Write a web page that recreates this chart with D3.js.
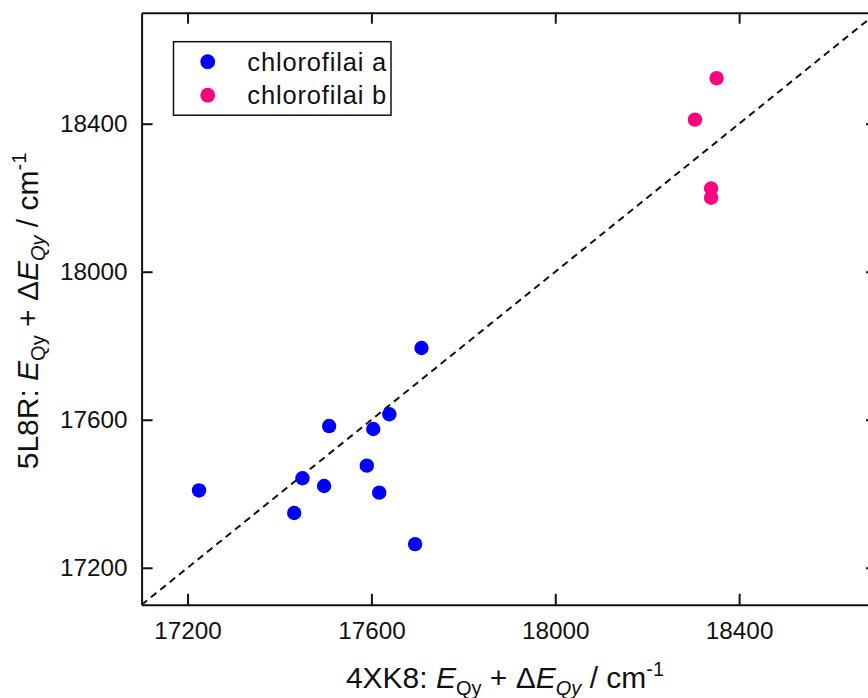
<!DOCTYPE html>
<html>
<head>
<meta charset="utf-8">
<script src="https://cdn.jsdelivr.net/npm/d3@7"></script>
<style>
  body { margin: 0; background: #fff; }
  text { font-family: Arial, "Liberation Sans", sans-serif; fill: #111; }
</style>
</head>
<body>
<div id="container"></div>
<script>
/* DATA */
const seriesNames = ["chlorofilai a", "chlorofilai b"]
const chlA_x = [17225, 17432, 17450, 17497, 17508, 17590, 17604, 17617, 17639, 17695, 17709]
const chlA_y = [17409, 17348, 17442, 17421, 17583, 17476, 17575, 17403, 17615, 17264, 17794]
const chlB_x = [18351, 18304, 18339, 18339]
const chlB_y = [18523, 18411, 18225, 18200]
const tickValues = [17200, 17600, 18000, 18400]
const axisRange = [17100, 18700]

/* CONSTANTS */
const W = 868, H = 698
const margin = {top: 12.7, left: 141.6}
const width = 735.4, height = 592.1
const colors = ["#0000ff", "#ff0080"]

const svg = d3.select("#container")
  .append("svg")
  .attr("width", W)
  .attr("height", H)

const g = svg.append("g")
  .attr("transform", "translate(" + margin.left + "," + margin.top + ")")

/* SCALES */
const xScale = d3.scaleLinear().domain(axisRange).range([0, width])
const yScale = d3.scaleLinear().domain(axisRange).range([height, 0])

/* AXES */
function styleAxis(sel) {
  sel.selectAll("path.domain").attr("stroke", "#111").attr("stroke-width", 2)
  sel.selectAll(".tick line").attr("stroke", "#111").attr("stroke-width", 2)
  sel.selectAll("text").style("font-size", "24.3px").attr("fill", "#111").attr("font-family", null)
}

g.append("g")
  .attr("transform", "translate(0," + height + ")")
  .call(d3.axisBottom(xScale).tickValues(tickValues).tickSize(-11).tickSizeOuter(0).tickPadding(17).tickFormat(d3.format("d")))
  .call(styleAxis)

g.append("g")
  .call(d3.axisLeft(yScale).tickValues(tickValues).tickSize(-11).tickSizeOuter(0).tickPadding(14).tickFormat(d3.format("d")))
  .call(styleAxis)

g.append("g")
  .call(d3.axisTop(xScale).tickValues(tickValues).tickSize(-11).tickSizeOuter(0).tickFormat(""))
  .call(styleAxis)

g.append("g")
  .attr("transform", "translate(" + width + ",0)")
  .call(d3.axisRight(yScale).tickValues(tickValues).tickSize(-11).tickSizeOuter(0).tickFormat(""))
  .call(styleAxis)

/* DIAGONAL y = x */
g.append("line")
  .attr("x1", xScale(axisRange[0])).attr("y1", yScale(axisRange[0]))
  .attr("x2", xScale(axisRange[1])).attr("y2", yScale(axisRange[1]))
  .attr("stroke", "#111")
  .attr("stroke-width", 2)
  .attr("stroke-dasharray", "7,5")

/* POINTS */
const dataA = chlA_x.map((x, i) => ({x: x, y: chlA_y[i]}))
const dataB = chlB_x.map((x, i) => ({x: x, y: chlB_y[i]}))

g.selectAll("circle.a")
  .data(dataA)
  .join("circle")
  .attr("class", "a")
  .attr("cx", d => xScale(d.x))
  .attr("cy", d => yScale(d.y))
  .attr("r", 7.2)
  .attr("fill", colors[0])

g.selectAll("circle.b")
  .data(dataB)
  .join("circle")
  .attr("class", "b")
  .attr("cx", d => xScale(d.x))
  .attr("cy", d => yScale(d.y))
  .attr("r", 7.2)
  .attr("fill", colors[1])

/* LEGEND */
const legend = svg.append("g")
legend.append("rect")
  .attr("x", 173.5).attr("y", 41.7)
  .attr("width", 217.5).attr("height", 73.5)
  .attr("fill", "#fff")
  .attr("stroke", "#111")
  .attr("stroke-width", 1.5)

seriesNames.forEach((name, i) => {
  const cy = 61.7 + i * 33.5
  legend.append("circle")
    .attr("cx", 207.7).attr("cy", cy).attr("r", 7.4)
    .attr("fill", colors[i])
  legend.append("text")
    .attr("x", 247.3).attr("y", cy + 9)
    .attr("textLength", 139)
    .style("font-size", "25.5px")
    .text(name)
})

/* AXIS TITLES */
function buildTitle(sel, prefix) {
  sel.style("font-size", "30px").attr("text-anchor", "middle")
  sel.append("tspan").text(prefix + ": ")
  sel.append("tspan").style("font-style", "italic").text("E")
  sel.append("tspan").attr("dy", 7).style("font-size", "20px").text("Qy")
  sel.append("tspan").attr("dy", -7).text(" + \u0394")
  sel.append("tspan").style("font-style", "italic").text("E")
  sel.append("tspan").attr("dy", 7).style("font-size", "20px").style("font-style", "italic").text("Qy")
  sel.append("tspan").attr("dy", -7).text(" / cm")
  sel.append("tspan").attr("dy", -12).style("font-size", "20px").text("-1")
}

const xTitle = svg.append("text")
  .attr("x", 505).attr("y", 688)
buildTitle(xTitle, "4XK8")

const yTitle = svg.append("text")
  .attr("transform", "translate(38,311) rotate(-90)")
buildTitle(yTitle, "5L8R")
</script>
</body>
</html>
